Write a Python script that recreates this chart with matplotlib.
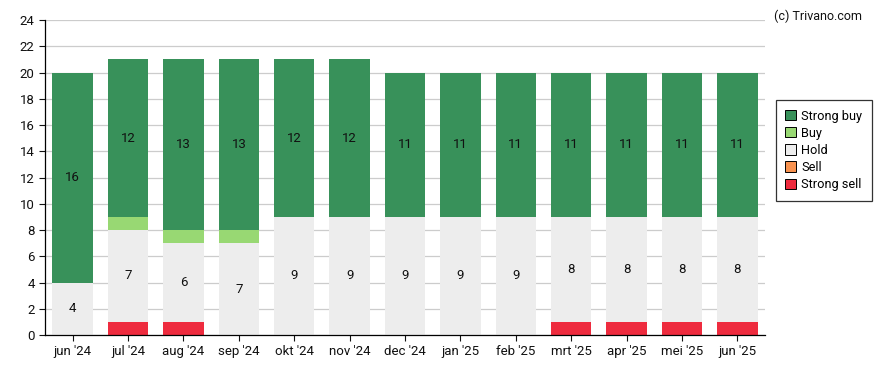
import matplotlib.pyplot as plt
import numpy as np

# --- data ---
months = ["jun '24", "jul '24", "aug '24", "sep '24", "okt '24", "nov '24", "dec '24",
          "jan '25", "feb '25", "mrt '25", "apr '25", "mei '25", "jun '25"]
strong_sell = [0, 1, 1, 0, 0, 0, 0, 0, 0, 1, 1, 1, 1]
sell = [0, 0, 0, 0, 0, 0, 0, 0, 0, 0, 0, 0, 0]
hold = [4, 7, 6, 7, 9, 9, 9, 9, 9, 8, 8, 8, 8]
buy = [0, 1, 1, 1, 0, 0, 0, 0, 0, 0, 0, 0, 0]
strong_buy = [16, 12, 13, 13, 12, 12, 11, 11, 11, 11, 11, 11, 11]

series = [
    ("Strong sell", strong_sell, "#ee2b3e"),
    ("Sell", sell, "#f8924f"),
    ("Hold", hold, "#ededed"),
    ("Buy", buy, "#98d873"),
    ("Strong buy", strong_buy, "#38915a"),
]
labelled = ("Hold", "Strong buy")

plt.rcParams['font.family'] = ['Roboto', 'DejaVu Sans']

fig = plt.figure(figsize=(8.88, 3.70), dpi=100)
ax = fig.add_axes([0.0507, 0.0946, 0.8108, 0.8513])

x = np.arange(len(months))
bottom = np.zeros(len(months))
handles = {}
for name, vals, col in series:
    vals = np.array(vals, dtype=float)
    bars = ax.bar(x, vals, bottom=bottom, width=0.73, color=col, zorder=2)
    handles[name] = bars
    if name in labelled:
        for xi, b, v in zip(x, bottom, vals):
            if v > 0:
                ax.text(xi, b + v / 2, f"{int(v)}", ha='center', va='center',
                        fontsize=9.5, color='#111111', zorder=3)
    bottom += vals

ax.set_xlim(-0.5, len(months) - 0.5)
ax.set_ylim(0, 24)
ax.set_yticks(range(0, 25, 2))
ax.set_xticks(x)
ax.set_xticklabels(months)
ax.tick_params(axis='both', labelsize=9.5, colors='#111111', length=4, width=0.8)
ax.grid(axis='y', color='#cccccc', linewidth=0.9, zorder=0)
for s in ['top', 'right']:
    ax.spines[s].set_visible(False)
for s in ['left', 'bottom']:
    ax.spines[s].set_color('#000000')
    ax.spines[s].set_linewidth(0.9)
    ax.spines[s].set_zorder(4)

order = ["Strong buy", "Buy", "Hold", "Sell", "Strong sell"]
leg = ax.legend([handles[n] for n in order], order, loc='upper left',
                bbox_to_anchor=(1.006, 0.766), frameon=True, fancybox=False,
                edgecolor='#000000', fontsize=9.2, handlelength=0.85, handleheight=0.85,
                handletextpad=0.4, borderpad=0.75, labelspacing=0.32)
leg.get_frame().set_linewidth(0.9)
for p in leg.get_patches():
    p.set_edgecolor('#000000')
    p.set_linewidth(0.7)

fig.text(0.872, 0.975, "(c) Trivano.com", fontsize=9, ha='left', va='top', color='#111111')

plt.savefig('out.png', dpi=100)
